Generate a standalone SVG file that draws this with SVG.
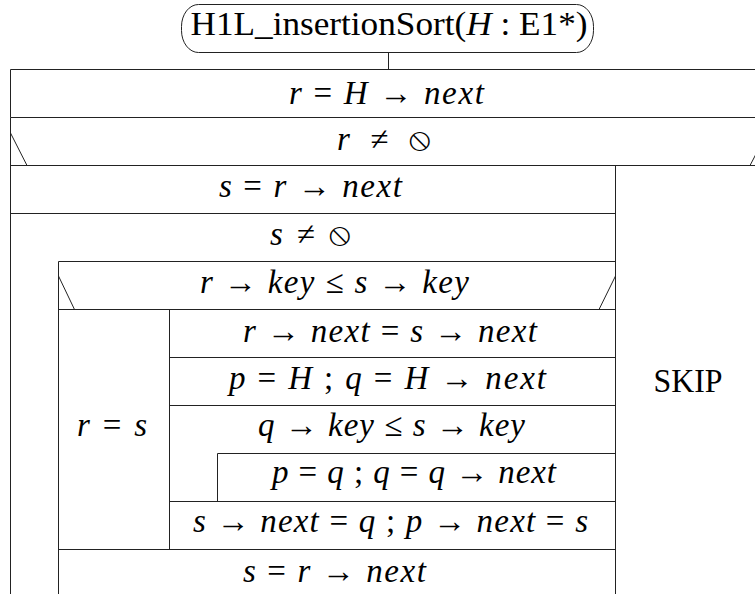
<svg xmlns="http://www.w3.org/2000/svg" width="755" height="594" viewBox="0 0 755 594">
<style>
.ln{stroke:#222;stroke-width:1;fill:none}
text{font-family:'Liberation Serif','Times New Roman',serif;font-size:33px;fill:#000;text-anchor:middle}
.i{font-style:italic}
.sym{font-family:'DejaVu Sans','Noto Sans',sans-serif;font-style:normal}
</style>
<rect width="755" height="594" fill="#fff"/>
<g id="start">
<rect class="ln" x="181.5" y="4.5" width="412" height="48" rx="17" ry="22"/>
<text x="389" y="35" textLength="397" lengthAdjust="spacingAndGlyphs">H1L_insertionSort(<tspan class="i">H</tspan> : E1*)</text>
</g>
<g id="connectors">
<line class="ln" x1="388.5" y1="52.5" x2="388.5" y2="69.5"/>
</g>
<g id="assign_r">
<path class="ln" d="M10.5 69.5H767M10.5 69.5V117.5"/>
<text x="386.5" y="104" textLength="195"><tspan class="i">r</tspan> = <tspan class="i">H</tspan> → <tspan class="i">next</tspan></text>
</g>
<g id="if_r">
<path class="ln" d="M10.5 117.5H767M10.5 117.5V594M10.5 165.5H767M10.5 133L27 165.5M767 133L750 165.5"/>
<text x="384" y="150" textLength="94"><tspan class="i">r</tspan> ≠ <tspan class="sym">⦸</tspan></text>
</g>
<g id="skip">
<path class="ln" d="M615.5 165.5V594"/>
<text x="688" y="392" textLength="69" lengthAdjust="spacingAndGlyphs">SKIP</text>
</g>
<g id="assign_s">
<path class="ln" d="M10.5 213.5H615.5"/>
<text x="310.5" y="197" textLength="183"><tspan class="i">s</tspan> = <tspan class="i">r</tspan> → <tspan class="i">next</tspan></text>
</g>
<g id="while_s">
<path class="ln" d="M58.5 261.5H615.5M58.5 261.5V594"/>
<text x="310.5" y="245" textLength="81"><tspan class="i">s</tspan> ≠ <tspan class="sym">⦸</tspan></text>
</g>
<g id="if_key">
<path class="ln" d="M58.5 309.5H615.5M58.5 276L74.5 309.5M615.5 276L599 309.5"/>
<text x="334.5" y="293" textLength="269"><tspan class="i">r</tspan> → <tspan class="i">key</tspan> ≤ <tspan class="i">s</tspan> → <tspan class="i">key</tspan></text>
</g>
<g id="r_eq_s">
<path class="ln" d="M169.5 309.5V549.5"/>
<text x="112" y="436" textLength="70"><tspan class="i">r</tspan> = <tspan class="i">s</tspan></text>
</g>
<g id="unlink">
<path class="ln" d="M169.5 357.5H615.5"/>
<text x="390" y="342" textLength="294"><tspan class="i">r</tspan> → <tspan class="i">next</tspan> = <tspan class="i">s</tspan> → <tspan class="i">next</tspan></text>
</g>
<g id="init_pq">
<path class="ln" d="M169.5 405.5H615.5"/>
<text x="387.5" y="389" textLength="317"><tspan class="i">p</tspan> = <tspan class="i">H</tspan> ; <tspan class="i">q</tspan> = <tspan class="i">H</tspan> → <tspan class="i">next</tspan></text>
</g>
<g id="while_q">
<path class="ln" d="M217.5 453.5H615.5M217.5 453.5V501.5"/>
<text x="391.5" y="436" textLength="267"><tspan class="i">q</tspan> → <tspan class="i">key</tspan> ≤ <tspan class="i">s</tspan> → <tspan class="i">key</tspan></text>
</g>
<g id="advance">
<path class="ln" d="M169.5 501.5H615.5"/>
<text x="414" y="483" textLength="284"><tspan class="i">p</tspan> = <tspan class="i">q</tspan> ; <tspan class="i">q</tspan> = <tspan class="i">q</tspan> → <tspan class="i">next</tspan></text>
</g>
<g id="insert">
<path class="ln" d="M58.5 549.5H615.5"/>
<text x="390.5" y="532" textLength="395"><tspan class="i">s</tspan> → <tspan class="i">next</tspan> = <tspan class="i">q</tspan> ; <tspan class="i">p</tspan> → <tspan class="i">next</tspan> = <tspan class="i">s</tspan></text>
</g>
<g id="assign_s2">
<text x="334.5" y="582" textLength="183"><tspan class="i">s</tspan> = <tspan class="i">r</tspan> → <tspan class="i">next</tspan></text>
</g>
</svg>
